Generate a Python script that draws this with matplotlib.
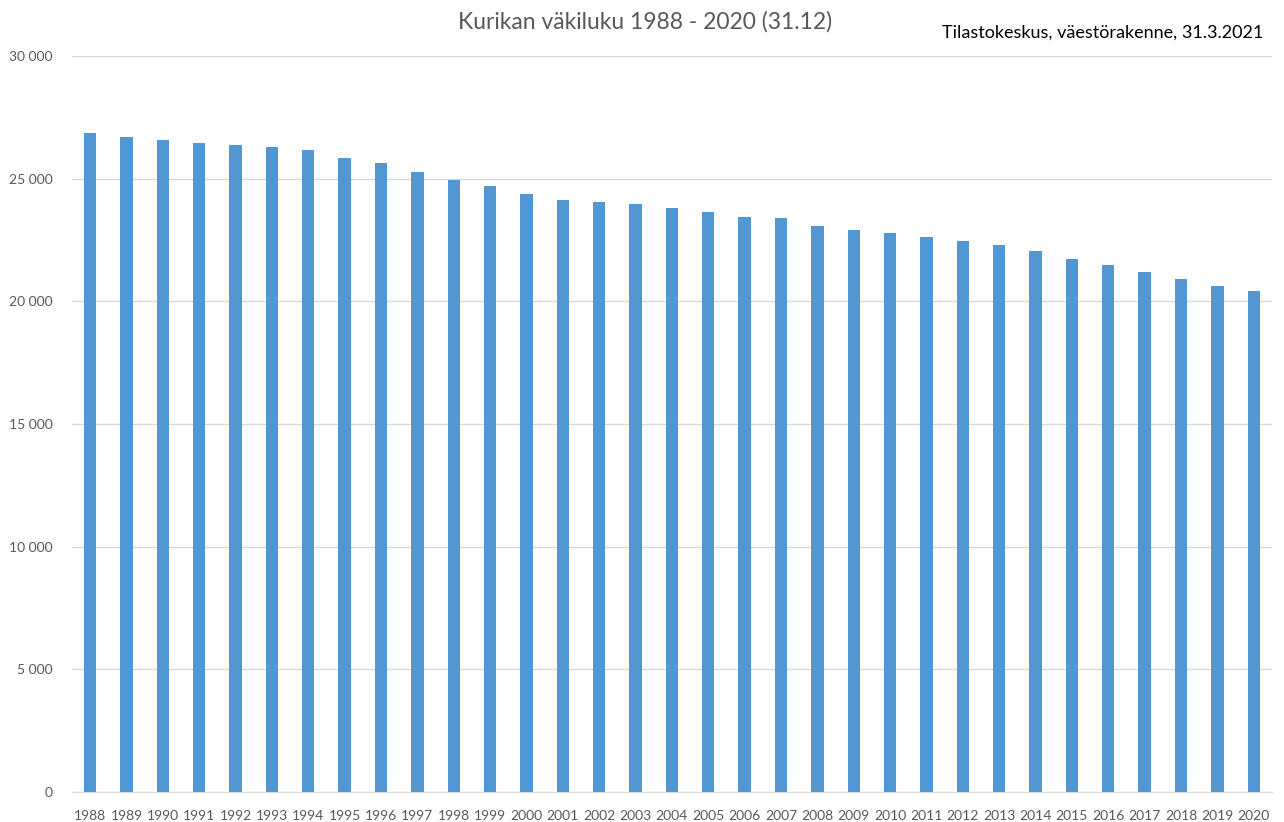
import numpy as np
import matplotlib.pyplot as plt
from matplotlib.ticker import FuncFormatter

plt.rcParams['font.family'] = ['Lato', 'DejaVu Sans']

years = list(range(1988, 2021))
population = [26870, 26710, 26580, 26440, 26370, 26300, 26170, 25840, 25640, 25290,
              24950, 24700, 24390, 24140, 24040, 23970, 23790, 23630, 23450, 23410,
              23070, 22900, 22800, 22620, 22450, 22310, 22070, 21710, 21480, 21200,
              20920, 20640, 20430]
y_ticks = [0, 5000, 10000, 15000, 20000, 25000, 30000]

bar_color = '#5097D3'
text_gray = '#595959'

fig = plt.figure(figsize=(12.84, 8.22), dpi=100)
ax = fig.add_axes([0.056, 0.0365, 0.9346, 0.8954])

x = np.arange(len(years))
ax.bar(x, population, width=0.34, color=bar_color, zorder=3)

ax.set_xlim(-0.5, len(years) - 0.5)
ax.set_ylim(0, 30000)
ax.set_yticks(y_ticks)
ax.yaxis.set_major_formatter(FuncFormatter(lambda v, p: f'{int(v):,}'.replace(',', ' ')))
ax.set_xticks(x)
ax.set_xticklabels([str(y) for y in years])
ax.tick_params(axis='both', length=0, labelsize=10, colors=text_gray)
ax.tick_params(axis='x', pad=13)
ax.tick_params(axis='y', pad=14)

ax.grid(axis='y', color='#D9D9D9', linewidth=1, zorder=0)
for s in ['top', 'right', 'left']:
    ax.spines[s].set_visible(False)
ax.spines['bottom'].set_color('#D9D9D9')

fig.text(0.502, 0.973, 'Kurikan väkiluku 1988 - 2020 (31.12)', ha='center', va='center',
         fontsize=16.5, color=text_gray)
fig.text(0.984, 0.96, 'Tilastokeskus, väestörakenne, 31.3.2021', ha='right', va='center',
         fontsize=13, color='black')

fig.savefig('out.png', dpi=100)
